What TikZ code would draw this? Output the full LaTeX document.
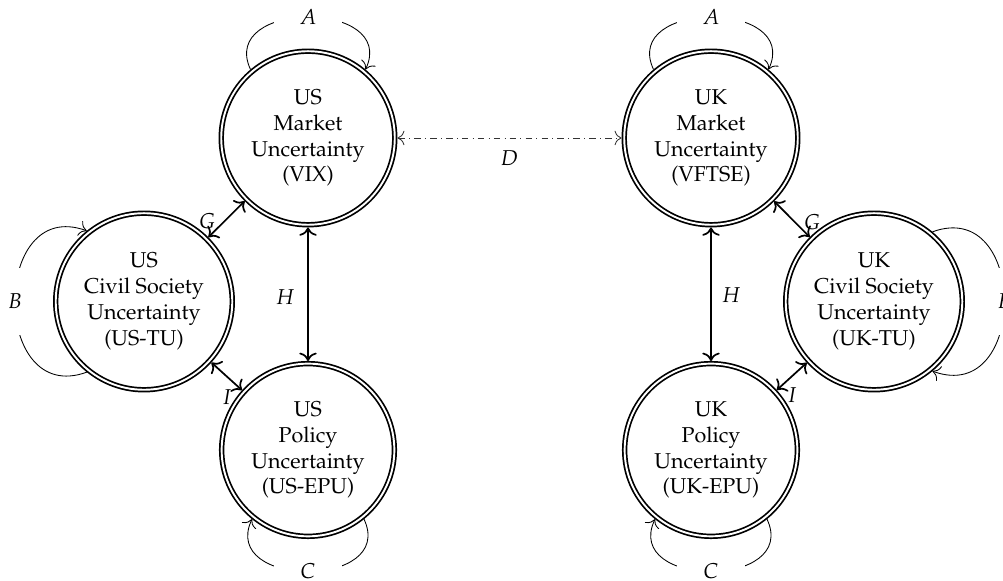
\documentclass[tikz,border=0pt]{standalone}
\usepackage[T1]{fontenc}
\usepackage{mathpazo}
\usetikzlibrary{arrows.meta}
\begin{document}
\begin{tikzpicture}[x=0.465pt,y=0.465pt,
  state/.style={circle, draw, double, line width=0.8pt, double distance=0.9pt,
    align=center, inner sep=1pt, outer sep=1.25pt},
  mk/.style={state, minimum size=80.7pt},
  cv/.style={state, minimum size=82.1pt},
  po/.style={state, minimum size=80.3pt},
  link/.style={{To[scale=1.15]}-{To[scale=1.15]}, thick},
  dlink/.style={{To[scale=1.3]}-{To[scale=1.3]}, thin, dash dot, draw=black!80},
  self/.style={-{To[scale=1.4]}, thin},
  lab/.style={inner sep=0pt, text=black},
  gaph/.style={fill=white, minimum width=32pt, minimum height=9pt, inner sep=0pt},
  gapv/.style={fill=white, minimum width=9pt, minimum height=31pt, inner sep=0pt}]
\useasboundingbox (0,0) rectangle (1003,581);
% nodes
\node[mk] (M1) at (308,443) {US\\Market\\Uncertainty\\(VIX)};
\node[cv] (C1) at (144,279.5) {US\\Civil Society\\Uncertainty\\(US-TU)};
\node[po] (P1) at (308,131) {US\\Policy\\Uncertainty\\(US-EPU)};
\node[mk] (M2) at (711,443) {UK\\Market\\Uncertainty\\(VFTSE)};
\node[cv] (C2) at (874,279.5) {UK\\Civil Society\\Uncertainty\\(UK-TU)};
\node[po] (P2) at (711,131) {UK\\Policy\\Uncertainty\\(UK-EPU)};
% links
\draw[dlink] (M1) -- (M2) node[lab, midway, shift={(0,-20)}] {$D$};
\draw[link] (M1) -- (P1) node[lab, midway, shift={(-23,-2.5)}] {$H$};
\draw[link] (M2) -- (P2) node[lab, midway, shift={(20,-0.5)}] {$H$};
\draw[link] (C1) -- (M1) node[lab, pos=0.2, shift={(-8.5,8.5)}] {$G$};
\draw[link] (C2) -- (M2) node[lab, pos=0.2, shift={(9.5,8)}] {$G$};
\draw[link] (C1) -- (P1) node[lab, pos=0.8, shift={(-9,-12)}] {$I$};
\draw[link] (C2) -- (P2) node[lab, pos=0.8, shift={(9.3,-10.6)}] {$I$};
% loops
\draw[self] (M1.130) .. controls +(115:77) and +(65:77) .. (M1.50) node[gaph, pos=0.5] {$A$};
\draw[self] (M2.130) .. controls +(115:77) and +(65:77) .. (M2.50) node[gaph, pos=0.5] {$A$};
\draw[self] (P1.-51) .. controls +(-65:77) and +(-115:77) .. (P1.231) node[gaph, pos=0.5] {$C$};
\draw[self] (P2.-51) .. controls +(-65:77) and +(-115:77) .. (P2.231) node[gaph, pos=0.5] {$C$};
\draw[self] (C1.231) .. controls +(200:102) and +(160:102) .. (C1.129) node[gapv, pos=0.5] {$B$};
\draw[self] (C2.50) .. controls +(20:102) and +(-20:102) .. (C2.-50) node[gapv, pos=0.5] {$B$};
\end{tikzpicture}
\end{document}
